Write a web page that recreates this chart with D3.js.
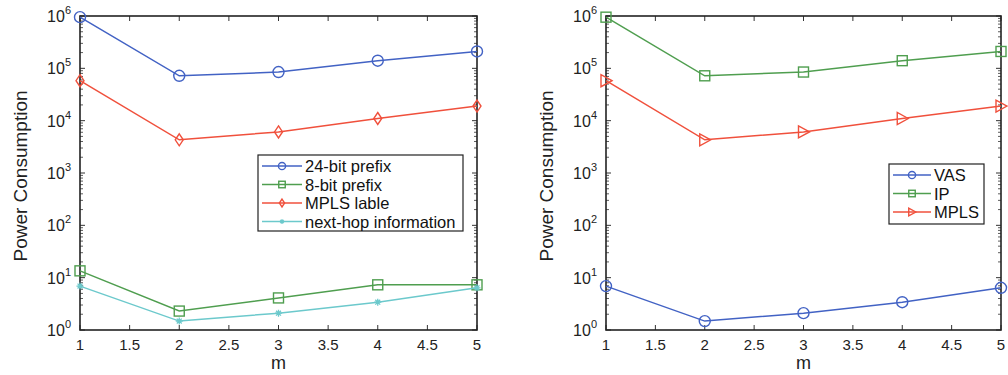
<!DOCTYPE html>
<html>
<head>
<meta charset="utf-8">
<script src="https://cdn.jsdelivr.net/npm/d3@7"></script>
<style>
  body { margin: 0; background: #fff; }
  svg { font-family: "Liberation Sans", Arial, sans-serif; }
</style>
</head>
<body>
<div id="chart"></div>
<script>
// values
const mValues = [1, 2, 3, 4, 5];
const xTicks = [1, 1.5, 2, 2.5, 3, 3.5, 4, 4.5, 5];
const yTickExps = [0, 1, 2, 3, 4, 5, 6];

const prefix24 = [9.5e5, 7.2e4, 8.5e4, 1.4e5, 2.1e5];
const prefix8 = [13.5, 2.3, 4.1, 7.3, 7.3];
const mplsLabel = [5.8e4, 4.3e3, 6.1e3, 1.1e4, 1.9e4];
const nextHop = [6.9, 1.48, 2.1, 3.4, 6.4];

const vas = [6.9, 1.48, 2.1, 3.4, 6.4];
const ip = [9.5e5, 7.2e4, 8.5e4, 1.4e5, 2.1e5];
const mpls = [5.8e4, 4.3e3, 6.1e3, 1.1e4, 1.9e4];

const BLUE = '#4262c4', GREEN = '#4f9e4f', RED = '#f0503c', CYAN = '#6cc9cc';

const leftSeries = [
  { name: '24-bit prefix', values: prefix24, color: BLUE, marker: 'circle' },
  { name: '8-bit prefix', values: prefix8, color: GREEN, marker: 'square' },
  { name: 'MPLS lable', values: mplsLabel, color: RED, marker: 'diamond' },
  { name: 'next-hop information', values: nextHop, color: CYAN, marker: 'star' }
];
const rightSeries = [
  { name: 'VAS', values: vas, color: BLUE, marker: 'circle' },
  { name: 'IP', values: ip, color: GREEN, marker: 'square' },
  { name: 'MPLS', values: mpls, color: RED, marker: 'triangle' }
];

const svg = d3.select('#chart').append('svg')
  .attr('width', 1008).attr('height', 375);

// k scales the marker size (legend markers are drawn smaller)
function drawMarker(g, type, x, y, color, k = 1) {
  if (type === 'circle') {
    g.append('circle').attr('cx', x).attr('cy', y).attr('r', 5.5 * k)
      .attr('fill', 'none').attr('stroke', color).attr('stroke-width', 1.4);
  } else if (type === 'square') {
    g.append('rect').attr('x', x - 5 * k).attr('y', y - 5 * k).attr('width', 10 * k).attr('height', 10 * k)
      .attr('fill', 'none').attr('stroke', color).attr('stroke-width', 1.4);
  } else if (type === 'diamond') {
    g.append('path').attr('d', `M${x},${y - 6 * k}L${x + 4 * k},${y}L${x},${y + 6 * k}L${x - 4 * k},${y}Z`)
      .attr('fill', 'none').attr('stroke', color).attr('stroke-width', 1.4);
  } else if (type === 'triangle') {
    g.append('path').attr('d', `M${x + 6 * k},${y}L${x - 5 * k},${y - 6 * k}L${x - 5 * k},${y + 6 * k}Z`)
      .attr('fill', 'none').attr('stroke', color).attr('stroke-width', 1.4);
  } else if (type === 'star') {
    const s = 3.5 * k;
    g.append('path')
      .attr('d', `M${x - s},${y}L${x + s},${y}M${x},${y - s}L${x},${y + s}` +
        `M${x - s * 0.7},${y - s * 0.7}L${x + s * 0.7},${y + s * 0.7}M${x - s * 0.7},${y + s * 0.7}L${x + s * 0.7},${y - s * 0.7}`)
      .attr('stroke', color).attr('stroke-width', 1.3);
  }
}

function drawPanel(opts) {
  const g = svg.append('g');
  const x = d3.scaleLinear().domain([1, 5]).range([opts.left, opts.right]);
  const y = d3.scaleLog().domain([1, 1e6]).range([330, 16]);

  // minor log ticks on both sides
  const minor = [];
  yTickExps.slice(0, -1).forEach(e => {
    for (let k = 2; k <= 9; k++) minor.push(k * Math.pow(10, e));
  });
  [opts.left, opts.right].forEach((px, i) => {
    const dir = i === 0 ? 1 : -1;
    g.selectAll(null).data(minor).join('line')
      .attr('x1', px).attr('x2', px + dir * 3)
      .attr('y1', d => y(d)).attr('y2', d => y(d))
      .attr('stroke', '#333').attr('stroke-width', 0.8);
    g.selectAll(null).data(yTickExps).join('line')
      .attr('x1', px).attr('x2', px + dir * 5)
      .attr('y1', d => y(Math.pow(10, d))).attr('y2', d => y(Math.pow(10, d)))
      .attr('stroke', '#333').attr('stroke-width', 1);
  });
  [330, 16].forEach((py, i) => {
    const dir = i === 0 ? -1 : 1;
    g.selectAll(null).data(xTicks).join('line')
      .attr('x1', d => x(d)).attr('x2', d => x(d))
      .attr('y1', py).attr('y2', py + dir * 5)
      .attr('stroke', '#333').attr('stroke-width', 1);
  });

  // box
  g.append('rect').attr('x', opts.left).attr('y', 16)
    .attr('width', opts.right - opts.left).attr('height', 314)
    .attr('fill', 'none').attr('stroke', '#222').attr('stroke-width', 1.6);

  // tick labels
  g.selectAll(null).data(xTicks).join('text')
    .attr('x', d => x(d)).attr('y', 350)
    .attr('text-anchor', 'middle').attr('font-size', 15).attr('fill', '#222')
    .text(d => d);
  const yl = g.selectAll(null).data(yTickExps).join('text')
    .attr('x', opts.left - 9).attr('y', d => y(Math.pow(10, d)) + 6)
    .attr('text-anchor', 'end').attr('font-size', 16).attr('fill', '#222');
  yl.append('tspan').text('10');
  yl.append('tspan').attr('dy', -8).attr('font-size', 11).text(d => d);

  g.append('text').attr('x', (opts.left + opts.right) / 2).attr('y', 369)
    .attr('text-anchor', 'middle').attr('font-size', 18).attr('fill', '#222').text('m');
  g.append('text')
    .attr('transform', `translate(${opts.left - 53},176) rotate(-90)`)
    .attr('text-anchor', 'middle').attr('font-size', 19).attr('fill', '#222')
    .text('Power Consumption');

  // series
  const line = d3.line().x((d, i) => x(mValues[i])).y(d => y(d));
  opts.series.forEach(s => {
    g.append('path').attr('d', line(s.values))
      .attr('fill', 'none').attr('stroke', s.color).attr('stroke-width', 1.5);
    s.values.forEach((v, i) => drawMarker(g, s.marker, x(mValues[i]), y(v), s.color));
  });

  // legend
  const L = opts.legend;
  g.append('rect').attr('x', L.x).attr('y', L.y).attr('width', L.w).attr('height', L.h)
    .attr('fill', '#fff').attr('stroke', '#222').attr('stroke-width', 1.2);
  opts.series.forEach((s, i) => {
    const ry = L.y + L.first + i * L.step;
    g.append('line').attr('x1', L.x + 4).attr('x2', L.x + 4 + L.lineW)
      .attr('y1', ry).attr('y2', ry).attr('stroke', s.color).attr('stroke-width', 1.5);
    drawMarker(g, s.marker, L.x + 4 + L.lineW / 2, ry, s.color, 0.65);
    g.append('text').attr('x', L.x + L.lineW + 7).attr('y', ry + 6)
      .attr('font-size', L.fs).attr('fill', '#111').text(s.name);
  });
}

drawPanel({
  left: 80, right: 477, series: leftSeries,
  legend: { x: 258, y: 155, w: 205, h: 76, first: 11, step: 18.5, lineW: 40, fs: 16.5 }
});
drawPanel({
  left: 606, right: 1001, series: rightSeries,
  legend: { x: 889, y: 164, w: 95, h: 60, first: 11, step: 18.5, lineW: 38, fs: 16.5 }
});
</script>
</body>
</html>
